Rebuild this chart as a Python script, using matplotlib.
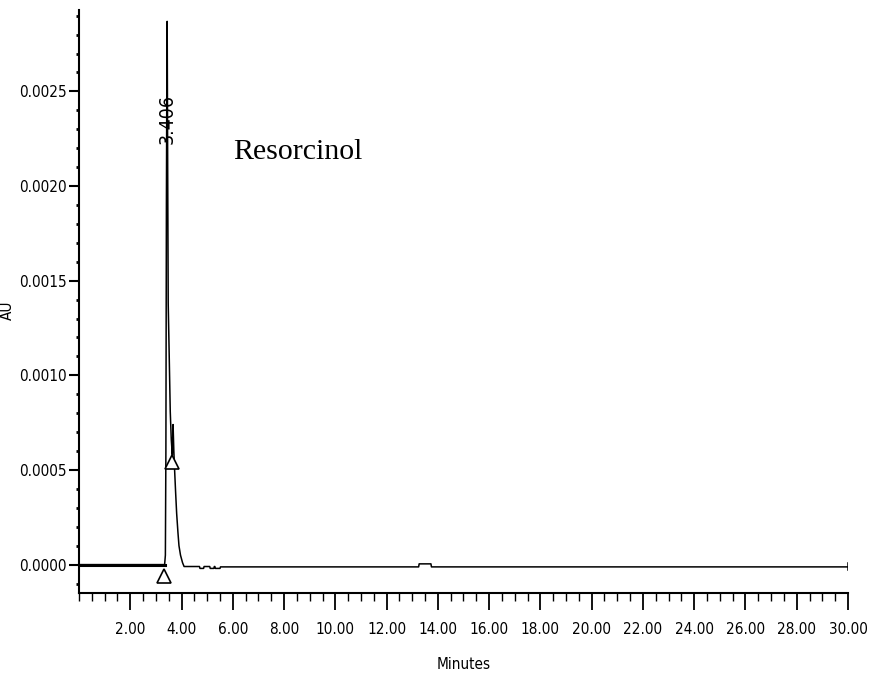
import numpy as np
import matplotlib.pyplot as plt
from matplotlib import font_manager
from matplotlib.ticker import MultipleLocator, FixedLocator, FormatStrFormatter

# chromatogram trace (minutes, AU)
time_min = [0.00, 3.34, 3.37, 3.39, 3.41, 3.43, 3.44, 3.46, 3.48, 3.52, 3.56, 3.60,
            3.64, 3.67, 3.70, 3.73, 3.77, 3.81, 3.86, 3.90, 3.96, 4.04, 4.10,
            4.70, 4.72, 4.86, 4.88, 5.10, 5.12, 5.26, 5.28, 5.30, 5.32, 5.50, 5.52,
            13.25, 13.27, 13.73, 13.75, 30.00]
absorb_au = [0.0, 0.0, 0.00005, 0.0006, 0.0019, 0.0027, 0.00287, 0.0021, 0.00138, 0.00110,
             0.00081, 0.00066, 0.00058, 0.00074, 0.00060, 0.00050, 0.00038, 0.00027,
             0.00017, 0.00010, 0.00005, 0.00001, -0.00001,
             -0.00001, -0.00002, -0.00002, -0.00001, -0.00001, -0.00002, -0.00002, -0.00001,
             -0.00001, -0.00002, -0.00002, -0.000012,
             -0.000012, 0.000004, 0.000004, -0.000012, -0.000012]

peak_time = 3.44
peak_label = "3.406"
peak_label_au = 0.00222
compound = "Resorcinol"

# integration marks (open triangles)
mark_time = [3.31, 3.62]
mark_au = [-0.00006, 0.00054]

y_ticks = [0.0, 0.0005, 0.0010, 0.0015, 0.0020, 0.0025]
x_ticks = [2, 4, 6, 8, 10, 12, 14, 16, 18, 20, 22, 24, 26, 28, 30]

# narrow face if there is one, else plain DejaVu a bit smaller
have_cond = any(f.name == 'DejaVu Sans' and f.stretch == 'condensed'
                for f in font_manager.fontManager.ttflist)
tick_size = 11 if have_cond else 10
font_kw = dict(family='DejaVu Sans', stretch='condensed')

fig = plt.figure(figsize=(8.7, 6.81), dpi=100)
ax = fig.add_axes([0.0908, 0.1292, 0.8839, 0.8561])

t = np.array(time_min)
a = np.array(absorb_au)
ax.plot(t, a, color='black', lw=1.1)
pre = t <= 3.34
ax.plot(t[pre], a[pre], color='black', lw=2.2)
ax.plot([30, 30], [-0.00003, 0.00001], color='black', lw=1.1)

ax.plot(mark_time, mark_au, linestyle='none', marker='^', markersize=10,
        markerfacecolor='white', markeredgecolor='black', markeredgewidth=1.2)

ax.text(peak_time, peak_label_au, peak_label, rotation=90, ha='center', va='bottom',
        fontsize=14, **font_kw)
ax.text(6.0, 0.00218, compound, family='Liberation Serif', fontsize=21.5,
        ha='left', va='center')

ax.set_xlim(0, 30)
ax.set_ylim(-0.00015, 0.00293)

ax.xaxis.set_major_locator(FixedLocator(x_ticks))
ax.xaxis.set_minor_locator(MultipleLocator(0.5))
ax.xaxis.set_major_formatter(FormatStrFormatter('%.2f'))
ax.yaxis.set_major_locator(FixedLocator(y_ticks))
ax.yaxis.set_minor_locator(MultipleLocator(0.0001))
ax.yaxis.set_major_formatter(FormatStrFormatter('%.4f'))

ax.tick_params(axis='x', which='major', direction='out', length=12, width=1.3, pad=9)
ax.tick_params(axis='x', which='minor', direction='out', length=6, width=1.0)
ax.tick_params(axis='y', which='major', direction='out', length=7, width=1.5, pad=2)
ax.tick_params(axis='y', which='minor', direction='out', length=2, width=2.0)

for lab in ax.get_xticklabels() + ax.get_yticklabels():
    lab.set_family('DejaVu Sans')
    lab.set_stretch('condensed')
    lab.set_fontsize(tick_size)

for s in ['top', 'right']:
    ax.spines[s].set_visible(False)
for s in ['left', 'bottom']:
    ax.spines[s].set_linewidth(1.5)

ax.set_xlabel("Minutes", fontsize=tick_size, labelpad=14, **font_kw)
ax.set_ylabel("AU", fontsize=tick_size, **font_kw)
ax.yaxis.set_label_coords(-0.083, 0.485)

fig.savefig("out.png", dpi=100)
